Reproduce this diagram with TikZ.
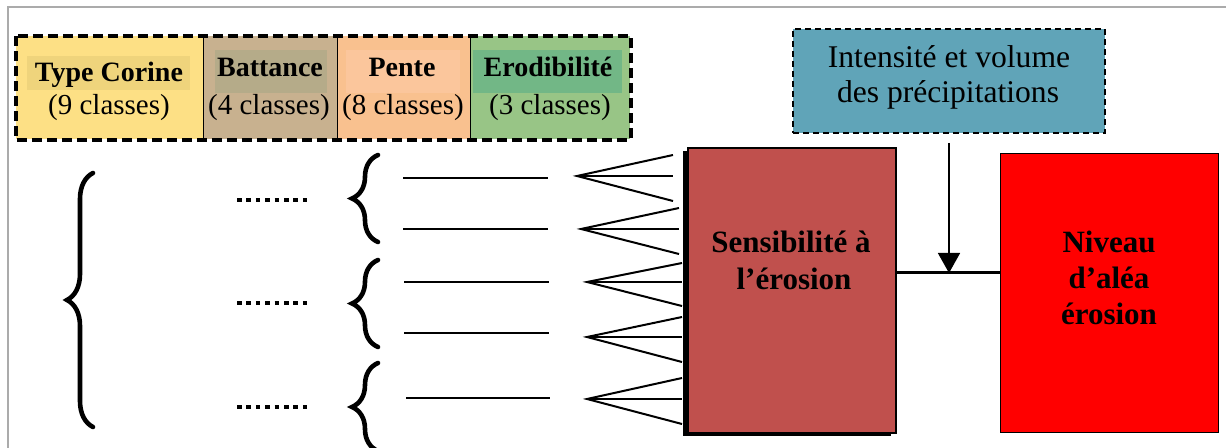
\documentclass[tikz,border=0pt]{standalone}
\usepackage{fontspec}
\setmainfont{Liberation Serif}
\usetikzlibrary{arrows.meta,decorations.pathreplacing,shadows}
\definecolor{corine}{HTML}{FDE085}
\definecolor{corinehl}{HTML}{EFD47C}
\definecolor{batt}{HTML}{C8B18F}
\definecolor{batthl}{HTML}{B5AB89}
\definecolor{pente}{HTML}{F9C18F}
\definecolor{pentehl}{HTML}{FBC69C}
\definecolor{erod}{HTML}{98C586}
\definecolor{erodhl}{HTML}{72B786}
\definecolor{precip}{HTML}{60A4B8}
\definecolor{sensc}{HTML}{C0504D}
\definecolor{framec}{HTML}{ABABAB}
\begin{document}
\begin{tikzpicture}[x=0.5pt,y=-0.5pt,
  cell/.style={anchor=north west,inner sep=0pt,minimum height=51.5pt},
  hb/.style={anchor=base,inner sep=0pt,font=\fontsize{14}{16}\selectfont\bfseries},
  hr/.style={anchor=base,inner sep=0pt,font=\fontsize{14.5}{16}\selectfont},
  ptxt/.style={anchor=base,inner sep=0pt,font=\fontsize{15.8}{18}\selectfont},
  btxt/.style={anchor=base,inner sep=0pt,font=\fontsize{15.5}{18}\selectfont\bfseries},
  bracestyle/.style={decorate,decoration={brace,amplitude=13pt},line width=2.3pt,line cap=round},
  dotline/.style={line width=2.2pt,dash pattern=on 2.3pt off 2.4pt},
  shortline/.style={line width=0.65pt},
  fan/.style={line width=1pt},
  fanmid/.style={line width=0.75pt}]
\useasboundingbox (0,0) rectangle (1226,448);
\clip (0,0) rectangle (1226,448);
% frame
\coordinate (frtl) at (8,7);
\coordinate (frtr) at (1226,7);
\coordinate (frbl) at (8,448);
\draw[framec,line width=1pt] (frtr) -- (frtl) -- (frbl);

% header cells
\node[cell,fill=corine,minimum width=93.5pt] (tc) at (16,36) {};
\node[cell,fill=batt,minimum width=67pt] (bt) at (203,36) {};
\node[cell,fill=pente,minimum width=66.5pt] (pe) at (337,36) {};
\node[cell,fill=erod,minimum width=80pt] (er) at (470,36) {};
\fill[corinehl] (27,56) rectangle (190,90);
\fill[batthl] (215,50) rectangle (327,93);
\fill[pentehl] (346,50) rectangle (460,93);
\fill[erodhl] (473,50) rectangle (622,93);
\draw[line width=0.5pt] (tc.north east) -- (tc.south east);
\draw[line width=0.5pt] (bt.north east) -- (bt.south east);
\draw[line width=0.5pt] (pe.north east) -- (pe.south east);
\draw[line width=1.8pt,dash pattern=on 5pt off 2.5pt] (tc.north west) rectangle (er.south east);
\node[hb] (tct) at (109,82) {Type Corine};
\node[hr] (tcc) at (109,115) {(9 classes)};
\node[hb] (btt) at (270,77) {Battance};
\node[hr] (btc) at (269,115) {(4 classes)};
\node[hb] (pet) at (402,77) {Pente};
\node[hr] (pec) at (403,115) {(8 classes)};
\node[hb] (ert) at (548,77) {Erodibilité};
\node[hr] (erc) at (550,115) {(3 classes)};

% precipitation box
\node[anchor=north west,inner sep=0pt,minimum width=156pt,minimum height=52pt,
      fill=precip,draw,line width=1pt,dash pattern=on 3pt off 2pt] (prec) at (792,28) {};
\node[ptxt] (prec1) at (949,68) {Intensité et volume};
\node[ptxt] (prec2) at (948,103) {des précipitations};

% sensibilite box
\node[anchor=north west,inner sep=0pt,minimum width=104pt,minimum height=142.5pt,
      fill=sensc,draw,line width=0.8pt,
      drop shadow={shadow xshift=-2.5pt,shadow yshift=-1.6pt,opacity=1,fill=black}] (sens) at (687,147) {};
\node[btxt] (sens1) at (791,253) {Sensibilité à};
\node[btxt] (sens2) at (794,290) {l’érosion};

% niveau box
\node[anchor=north west,inner sep=0pt,minimum width=109pt,minimum height=139.5pt,
      fill=red,draw,line width=0.6pt] (niv) at (1000,153) {};
\node[btxt] (niv1) at (1109,253) {Niveau};
\node[btxt] (niv2) at (1109,289) {d’aléa};
\node[btxt] (niv3) at (1109,325) {érosion};

% connectors
\coordinate (junc) at (949,273);
\coordinate (arrtop) at (949,143);
\draw[line width=1.5pt] (sens.east |- junc) -- (niv.west |- junc);
\draw[line width=0.8pt,-{Triangle[width=11pt,length=10pt]}] (arrtop) -- (junc);

% braces
\coordinate (bigb1) at (93,427); \coordinate (bigb2) at (93,173);
\draw[bracestyle] (bigb1) -- (bigb2);
\coordinate (sb1a) at (378,242); \coordinate (sb1b) at (378,155);
\coordinate (sb2a) at (378,347); \coordinate (sb2b) at (378,260);
\coordinate (sb3a) at (378,451); \coordinate (sb3b) at (378,363);
\draw[bracestyle] (sb1a) -- (sb1b);
\draw[bracestyle] (sb2a) -- (sb2b);
\draw[bracestyle] (sb3a) -- (sb3b);

% dotted leaders
\foreach \i/\y in {1/200,2/303,3/407}{
  \coordinate (dl\i) at (237,\y); \coordinate (dr\i) at (308,\y);
  \draw[dotline] (dl\i) -- (dr\i);
}

% short lines
\foreach \i/\y/\xa/\xb in {1/178/403/548,2/229/403/548,3/282/404/549,4/333/404/549,5/398/406/550}{
  \coordinate (ll\i) at (\xa,\y); \coordinate (lr\i) at (\xb,\y);
  \draw[shortline] (ll\i) -- (lr\i);
}

% fans
\foreach \i/\ax/\ay/\ex/\up/\dn in {1/577/176/673/155/201,2/581/229/679/208/254,3/587/282/682/263/306,4/587/337/682/317/362,5/587/399/682/378/424}{
  \coordinate (fa\i) at (\ax,\ay);
  \coordinate (fu\i) at (\ex,\up);
  \coordinate (fm\i) at (\ex,\ay);
  \coordinate (fd\i) at (\ex,\dn);
  \draw[fan] (fu\i) -- (fa\i) -- (fd\i);
  \draw[fanmid] (fa\i) -- (fm\i);
}
\end{tikzpicture}
\end{document}
